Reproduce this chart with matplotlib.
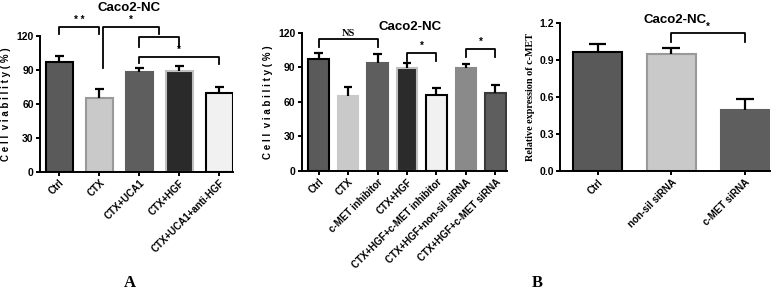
import matplotlib
matplotlib.use("Agg")
import matplotlib.pyplot as plt

# ---- Data ----
a_labels = ["Ctrl", "CTX", "CTX+UCA1", "CTX+HGF", "CTX+UCA1+anti-HGF"]
a_values = [97, 65.5, 88.5, 89, 70]
a_errors = [5.5, 7.5, 3, 4.5, 5]
a_colors = ["#5a5a5a", "#c9c9c9", "#5e5e5e", "#2a2a2a", "#f1f1f1"]
a_edges = ["#000000", "#999999", "#5e5e5e", "#c0c0c0", "#000000"]

b_labels = ["Ctrl", "CTX", "c-MET inhibitor", "CTX+HGF", "CTX+HGF+c-MET inhibitor",
            "CTX+HGF+non-sil siRNA", "CTX+HGF+c-MET siRNA"]
b_values = [96.8, 65.2, 93.6, 89.6, 66.1, 89.3, 67.2]
b_errors = [5.8, 7.6, 7.8, 4.3, 5.5, 3.2, 7.0]
b_colors = ["#5a5a5a", "#c9c9c9", "#5e5e5e", "#2b2b2b", "#f1f1f1", "#8a8a8a", "#5e5e5e"]
b_edges = ["#000000", "#c9c9c9", "#5e5e5e", "#c0c0c0", "#000000", "#8a8a8a", "#3a3a3a"]

c_labels = ["Ctrl", "non-sil siRNA", "c-MET siRNA"]
c_values = [0.97, 0.951, 0.496]
c_errors = [0.062, 0.051, 0.089]
c_colors = ["#595959", "#c9c9c9", "#5e5e5e"]
c_edges = ["#000000", "#999999", "#5e5e5e"]

plt.rcParams['font.family'] = ['Liberation Sans', 'DejaVu Sans']

fig = plt.figure(figsize=(7.8, 2.93), dpi=100)

LW = 1.4


def style_axes(ax, labels, ylim, yticks, ytlabels):
    ax.set_ylim(*ylim)
    ax.set_yticks(yticks)
    ax.set_yticklabels(ytlabels, fontsize=7.5, fontweight='bold')
    ax.set_xticks(range(len(labels)))
    ax.set_xticklabels(labels, rotation=45, ha='right', rotation_mode='anchor',
                       fontsize=7, fontweight='bold')
    for s in ['top', 'right']:
        ax.spines[s].set_visible(False)
    for s in ['left', 'bottom']:
        ax.spines[s].set_linewidth(LW)
    ax.tick_params(axis='both', width=LW, length=3, pad=1.5)


def draw_bars(ax, values, errors, colors, edges, width, capw):
    x = list(range(len(values)))
    ax.bar(x, values, width=width, color=colors, edgecolor=edges, linewidth=1.5, zorder=2)
    for xi, v, e in zip(x, values, errors):
        ax.vlines(xi, v, v + e, color='black', linewidth=1.6, zorder=3)
        ax.hlines(v + e, xi - capw, xi + capw, color='black', linewidth=1.6, zorder=3)


def bracket(ax, x1, x2, y, y1, y2, text=None, ty=None, fs=7, family=None):
    ax.plot([x1, x1, x2, x2], [y1, y, y, y2], color='black', linewidth=1.3,
            clip_on=False, zorder=4)
    if text is not None:
        kw = {}
        if family:
            kw['family'] = family
        ax.text((x1 + x2) / 2, ty, text, ha='center', va='bottom', fontsize=fs,
                fontweight='bold', clip_on=False, **kw)


YLAB = "C e l l  v i a b i l i t y ( % )"

# ---- Panel A ----
axA = fig.add_axes([40 / 780, (293 - 171.7) / 293, 193 / 780, 135.7 / 293])
draw_bars(axA, a_values, a_errors, a_colors, a_edges, 0.68, 0.11)
axA.set_xlim(-0.48, 4.34)
style_axes(axA, a_labels, (0, 120), [0, 30, 60, 90, 120], ["0", "30", "60", "90", "120"])
axA.set_ylabel(YLAB, fontsize=7.0, fontweight='bold', labelpad=4)
axA.text(0.46, 1.205, "Caco2-NC", transform=axA.transAxes, ha='center', va='center',
         fontsize=9.5, fontweight='bold')
bracket(axA, 0, 1, 128.3, 121.5, 121.5, "* *", 129.5)
bracket(axA, 1.1, 2.5, 128.3, 91.4, 121.5, "*", 129.5)
bracket(axA, 2, 3, 118.8, 110.6, 110.6)
bracket(axA, 2, 4, 101.1, 96, 95.2, "*", 103.5)

# ---- Panel B ----
axB = fig.add_axes([301.7 / 780, (293 - 170.7) / 293, 205 / 780, 138 / 293])
draw_bars(axB, b_values, b_errors, b_colors, b_edges, 0.69, 0.14)
axB.set_xlim(-0.57, 6.38)
style_axes(axB, b_labels, (0, 120), [0, 30, 60, 90, 120], ["0", "30", "60", "90", "120"])
axB.set_ylabel(YLAB, fontsize=7.0, fontweight='bold', labelpad=4)
axB.text(0.53, 1.04, "Caco2-NC", transform=axB.transAxes, ha='center', va='center',
         fontsize=9.5, fontweight='bold')
bracket(axB, 0, 2, 114.2, 107.8, 107.8, "NS", 115.5, fs=7.5, family='Liberation Serif')
bracket(axB, 3, 4, 102.6, 95.7, 95.7, "*", 104.5)
bracket(axB, 5, 6, 106.1, 99.1, 99.1, "*", 108)

# ---- Panel C ----
axC = fig.add_axes([560 / 780, (293 - 171) / 293, 210 / 780, 147.7 / 293])
draw_bars(axC, c_values, c_errors, c_colors, c_edges, 0.66, 0.12)
axC.set_xlim(-0.51, 2.34)
style_axes(axC, c_labels, (0, 1.2), [0, 0.3, 0.6, 0.9, 1.2], ["0.0", "0.3", "0.6", "0.9", "1.2"])
axC.set_ylabel("Relative expression of c-MET", fontsize=7.3, fontweight='bold',
               family='Liberation Serif', labelpad=3)
axC.text(0.55, 1.02, "Caco2-NC", transform=axC.transAxes, ha='center', va='center',
         fontsize=9.5, fontweight='bold')
bracket(axC, 1, 2, 1.119, 1.046, 1.046, "*", 1.13)

# ---- Panel letters ----
fig.text(130 / 780, 10 / 293, "A", ha='center', va='center', fontsize=12,
         fontweight='bold', family='Liberation Serif')
fig.text(537 / 780, 10 / 293, "B", ha='center', va='center', fontsize=12,
         fontweight='bold', family='Liberation Serif')

fig.savefig("out.png", dpi=100, facecolor='white')
